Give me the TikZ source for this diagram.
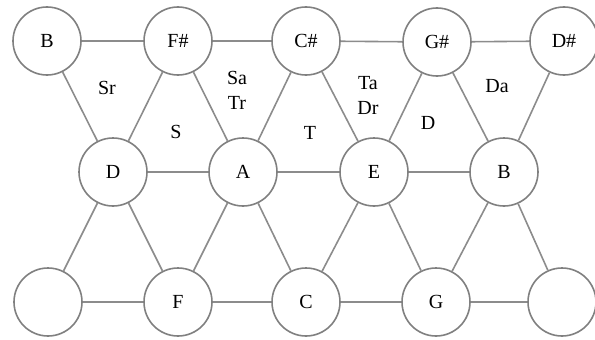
\documentclass[tikz,border=0pt]{standalone}
\usepackage{fontspec}
\setmainfont{Liberation Serif}
\begin{document}
\begin{tikzpicture}[x=1pt,y=-1pt,
        note/.style={circle,draw=black!50,fill=white,line width=1.6pt,minimum size=68pt,inner sep=0pt,font=\fontsize{20}{24}\selectfont},
        link/.style={black!45,line width=1.6pt},
        lbl/.style={font=\fontsize{20}{25}\selectfont,align=center,inner sep=0pt}]
        \useasboundingbox (0,0) rectangle (595,340);

        % top row
        \node[note] (t1) at (47,41) {B};
        \node[note] (t2) at (178,41) {F\#};
        \node[note] (t3) at (306,41) {C\#};
        \node[note] (t4) at (437,42) {G\#};
        \node[note] (t5) at (564,41) {D\#};
        % middle row
        \node[note] (m1) at (113,172) {D};
        \node[note] (m2) at (243,172) {A};
        \node[note] (m3) at (374,172) {E};
        \node[note] (m4) at (504,172) {B};
        % bottom row
        \node[note] (b1) at (48,302) {};
        \node[note] (b2) at (178,302) {F};
        \node[note] (b3) at (306,302) {C};
        \node[note] (b4) at (436,302) {G};
        \node[note] (b5) at (562,302) {};

        \foreach \i in {1,...,4} {
            \pgfmathtruncatemacro\j{\i+1}
            \draw[link] (t\i) -- (t\j);
            \draw[link] (b\i) -- (b\j);
            \draw[link] (t\i) -- (m\i) -- (t\j);
            \draw[link] (b\i) -- (m\i) -- (b\j);
        }
        \foreach \i in {1,...,3} {
            \pgfmathtruncatemacro\j{\i+1}
            \draw[link] (m\i) -- (m\j);
        }

        % triad names
        \node[lbl] (sr) at (107,88) {Sr};
        \node[lbl] (s) at (176,132) {S};
        \node[lbl] (satr) at (237,90) {Sa\\Tr};
        \node[lbl] (t) at (310,133) {T};
        \node[lbl] (tadr) at (368,95) {Ta\\Dr};
        \node[lbl] (d) at (428,123) {D};
        \node[lbl] (da) at (497,86) {Da};
\end{tikzpicture}
\end{document}
